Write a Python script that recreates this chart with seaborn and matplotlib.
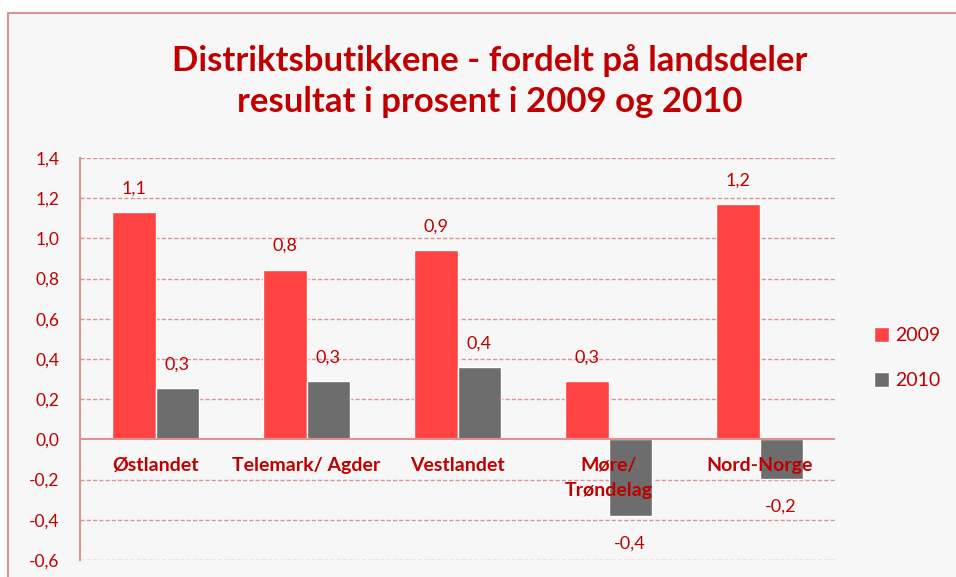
import numpy as np
import pandas as pd
import matplotlib
matplotlib.use("Agg")
import matplotlib.pyplot as plt
from matplotlib.patches import Rectangle
import seaborn as sns

# data
regions = ["Østlandet", "Telemark/ Agder", "Vestlandet", "Møre/\nTrøndelag", "Nord-Norge"]
years = ["2009", "2010"]
vals_2009 = [1.13, 0.845, 0.94, 0.29, 1.17]
vals_2010 = [0.255, 0.29, 0.36, -0.38, -0.195]
yticks = [-0.6, -0.4, -0.2, 0.0, 0.2, 0.4, 0.6, 0.8, 1.0, 1.2, 1.4]

DARKRED = "#c00000"
PINK = "#d99594"
BG = "#f7f7f7"
palette = {"2009": "#ff4343", "2010": "#6d6d6d"}

df = pd.DataFrame({
    "region": regions * 2,
    "year": ["2009"] * len(regions) + ["2010"] * len(regions),
    "value": vals_2009 + vals_2010,
})

sns.set_style("white")
plt.rcParams["font.family"] = ["Lato", "DejaVu Sans"]

fig = plt.figure(figsize=(9.56, 5.77), dpi=100, facecolor="white")
# chart frame
fig.patches.append(Rectangle((8 / 956, -0.05), 1.1, 564 / 577 + 0.05, transform=fig.transFigure,
                             facecolor=BG, edgecolor=PINK, linewidth=1.5, zorder=-10))

ax = fig.add_axes([80 / 956, 17 / 577, 755 / 956, 402 / 577])
ax.patch.set_visible(False)

sns.barplot(data=df, x="region", y="value", hue="year", order=regions, hue_order=years,
            palette=palette, width=0.57, saturation=1, ax=ax, legend=True, zorder=3)

ax.set_ylim(-0.6, 1.4)
ax.set_xlim(-0.5, len(regions) - 0.5)
ax.set_yticks(yticks)
ax.set_yticklabels([f"{v:.1f}".replace(".", ",") for v in yticks], color=DARKRED, fontsize=12.5)
ax.tick_params(axis="y", length=0, pad=15)
ax.set_xticks([])
ax.set_xlabel("")
ax.set_ylabel("")

for y in yticks:
    if y != 0:
        ax.axhline(y, color=PINK, linestyle=(0, (3, 1.5)), linewidth=1, zorder=1)
ax.axhline(0, color=PINK, linewidth=1.5, zorder=4)

for s in ["top", "right", "bottom"]:
    ax.spines[s].set_visible(False)
ax.spines["left"].set_color(PINK)
ax.spines["left"].set_linewidth(1.5)

# value labels
for cont in ax.containers:
    for bar in cont:
        h = bar.get_height()
        x = bar.get_x() + bar.get_width() / 2
        txt = f"{h:.1f}".replace(".", ",")
        off = 17 if h >= 0 else -20
        ax.annotate(txt, (x, h), xytext=(0, off), textcoords="offset points",
                    ha="center", va="center", color=DARKRED, fontsize=13, zorder=6)

# category labels just below the zero line
for i, r in enumerate(regions):
    ax.annotate(r, (i, 0), xytext=(0, -13), textcoords="offset points", ha="center", va="top",
                color=DARKRED, fontsize=14, fontweight="bold", zorder=7, linespacing=1.55)

handles, labels = ax.get_legend_handles_labels()
ax.legend(handles, labels, loc="center left", bbox_to_anchor=(856 / 956, 1 - 358 / 577),
          bbox_transform=fig.transFigure, frameon=False, handlelength=0.8, handleheight=0.8,
          handletextpad=0.3, labelspacing=1.45, fontsize=14, labelcolor=DARKRED)

fig.text(490 / 956, 1 - 81 / 577, "Distriktsbutikkene - fordelt på landsdeler\nresultat i prosent i 2009 og 2010",
         ha="center", va="center", color=DARKRED, fontsize=25, fontweight="bold", linespacing=1.35)

fig.savefig("out.png", dpi=100, facecolor="white")
